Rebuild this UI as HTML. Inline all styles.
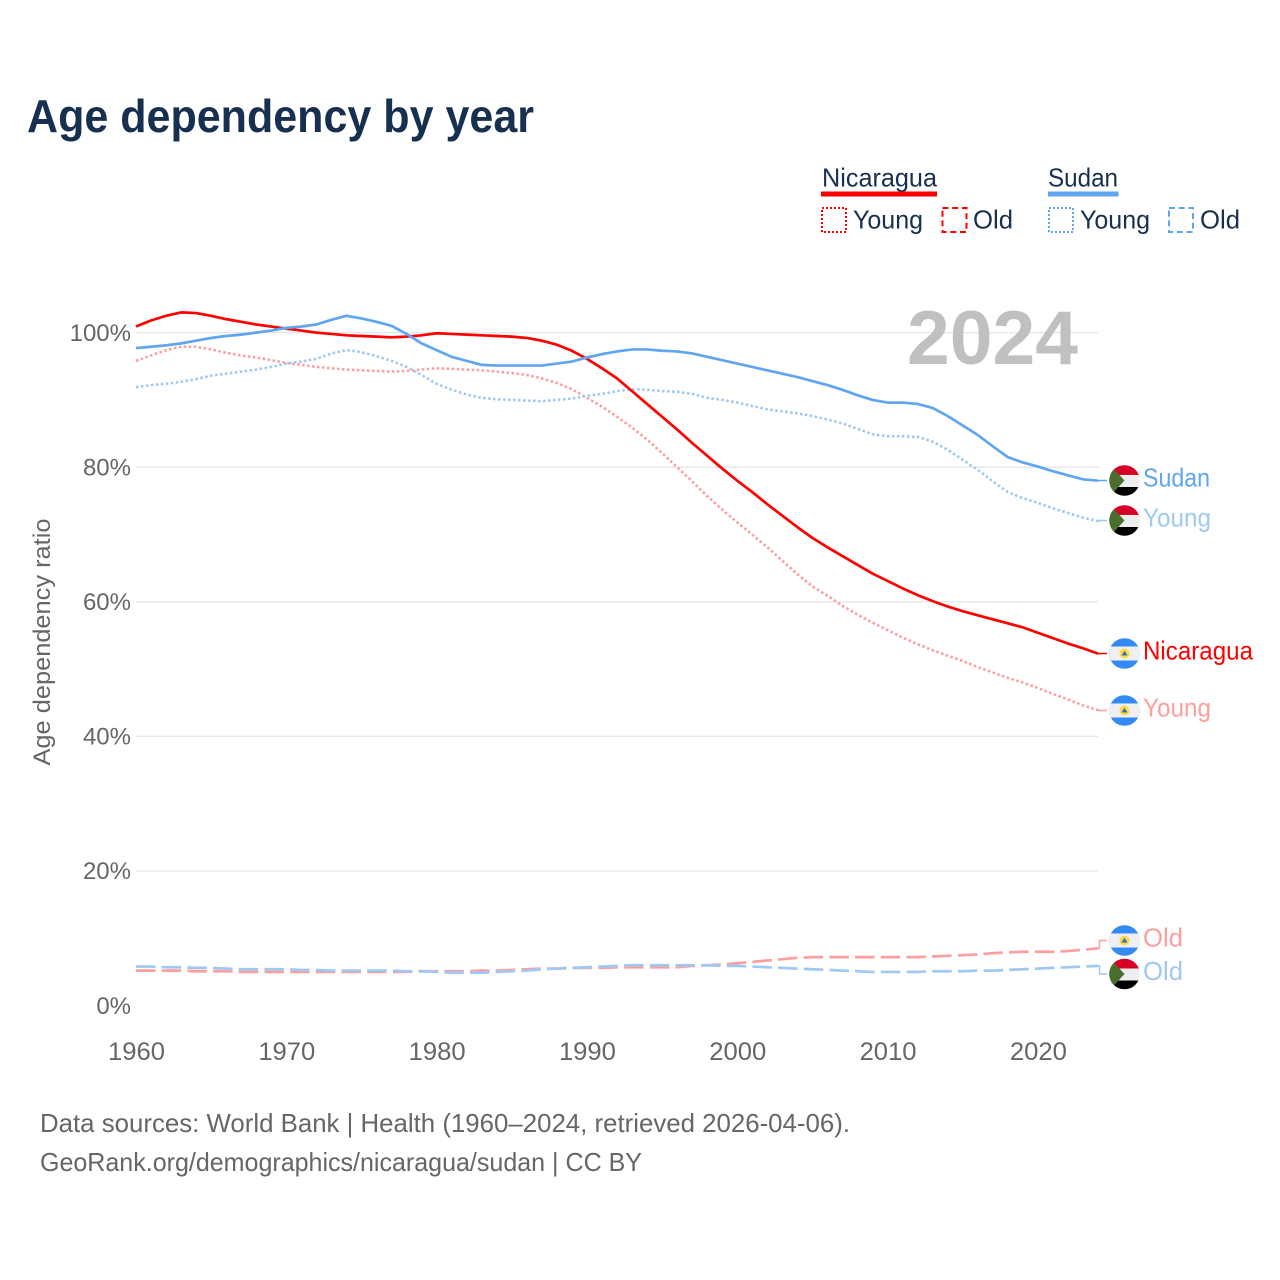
<!DOCTYPE html>
<html lang="en">
<head>
<meta charset="utf-8">
<title>Age dependency by year</title>
<style>
html,body{margin:0;padding:0;background:#fff;}
svg{display:block;font-family:"Liberation Sans",sans-serif;}
</style>
</head>
<body>
<svg id="chart" xmlns="http://www.w3.org/2000/svg" width="1280" height="1280" viewBox="0 0 1280 1280">
<defs><clipPath id="flag-clip"><circle cx="0" cy="0" r="15.3"></circle></clipPath></defs>
<rect x="0" y="0" width="1280" height="1280" fill="#fff"></rect>
<text x="27" y="132" font-size="46" font-weight="700" fill="#17304f" textLength="507" lengthAdjust="spacingAndGlyphs">Age dependency by year</text>

<g>
<text x="822" y="186.5" font-size="26" fill="#17304f" textLength="115" lengthAdjust="spacingAndGlyphs">Nicaragua</text>
<rect x="821" y="191.5" width="116" height="5" fill="#ff0000"></rect>
<text x="1048" y="186.5" font-size="26" fill="#17304f" textLength="70" lengthAdjust="spacingAndGlyphs">Sudan</text>
<rect x="1048" y="191.5" width="70.5" height="5" fill="#60a5f0"></rect>
<rect x="822" y="208" width="24" height="24" fill="none" stroke="#ff0000" stroke-width="2" stroke-dasharray="2 2"></rect>
<text x="853" y="228.5" font-size="26" fill="#17304f" textLength="70" lengthAdjust="spacingAndGlyphs">Young</text>
<rect x="942.5" y="208" width="24" height="24" fill="none" stroke="#ff0000" stroke-width="2" stroke-dasharray="6 3.7"></rect>
<text x="973" y="228.5" font-size="26" fill="#17304f" textLength="40" lengthAdjust="spacingAndGlyphs">Old</text>
<rect x="1049" y="208" width="24" height="24" fill="none" stroke="#60a5f0" stroke-width="2" stroke-dasharray="2 2"></rect>
<text x="1080" y="228.5" font-size="26" fill="#17304f" textLength="70" lengthAdjust="spacingAndGlyphs">Young</text>
<rect x="1169" y="208" width="24" height="24" fill="none" stroke="#60a5f0" stroke-width="2" stroke-dasharray="6 3.7"></rect>
<text x="1200" y="228.5" font-size="26" fill="#17304f" textLength="40" lengthAdjust="spacingAndGlyphs">Old</text>
</g>

<g id="grid"></g>
<text x="907" y="364" font-size="76" font-weight="700" fill="#c0c0c0" textLength="171" lengthAdjust="spacingAndGlyphs">2024</text>
<g id="yticks"></g>
<g id="xticks"></g>
<text transform="translate(50,642) rotate(-90)" text-anchor="middle" font-size="24" fill="#666666" textLength="247" lengthAdjust="spacingAndGlyphs">Age dependency ratio</text>
<g id="series"></g>
<g id="endlabels"></g>

<text x="40" y="1132" font-size="26" fill="#666666" textLength="810" lengthAdjust="spacingAndGlyphs">Data sources: World Bank | Health (1960–2024, retrieved 2026-04-06).</text>
<text x="40" y="1171" font-size="26" fill="#666666" textLength="602" lengthAdjust="spacingAndGlyphs">GeoRank.org/demographics/nicaragua/sudan | CC BY</text>
</svg>
<script>
const startYear = 1960;
const xTickLabels = [1960, 1970, 1980, 1990, 2000, 2010, 2020];
const yTickLabels = [0, 20, 40, 60, 80, 100];

const nicaraguaTotal = [
100.9,101.8,102.5,103.0,102.9,102.5,102.0,101.6,101.2,100.9,
100.6,100.3,100.0,99.8,99.6,99.5,99.4,99.3,99.4,99.6,
99.9,99.8,99.7,99.6,99.5,99.4,99.2,98.8,98.2,97.3,
96.1,94.7,93.2,91.3,89.4,87.5,85.6,83.6,81.7,79.8,
78.0,76.3,74.5,72.8,71.1,69.5,68.1,66.8,65.5,64.2,
63.1,62.0,61.0,60.1,59.3,58.6,58.0,57.4,56.8,56.2,
55.4,54.6,53.8,53.1,52.3];
const nicaraguaYoung = [
95.8,96.6,97.4,97.9,97.9,97.5,97.0,96.6,96.3,95.9,
95.5,95.2,94.9,94.7,94.5,94.4,94.3,94.2,94.3,94.5,
94.7,94.6,94.5,94.4,94.2,94.0,93.7,93.2,92.5,91.6,
90.3,89.0,87.5,85.9,84.1,82.1,80.0,77.9,75.7,73.7,
71.8,70.0,68.1,66.1,64.1,62.3,60.9,59.4,58.1,56.9,
55.8,54.7,53.7,52.8,52.0,51.2,50.3,49.5,48.7,48.0,
47.2,46.3,45.5,44.6,43.9];
const nicaraguaOld = [
5.2,5.2,5.2,5.2,5.1,5.1,5.1,5.0,5.0,5.0,
5.0,5.0,5.0,5.0,5.0,5.0,5.0,5.0,5.0,5.1,
5.1,5.1,5.1,5.2,5.2,5.3,5.4,5.5,5.5,5.6,
5.6,5.6,5.7,5.7,5.7,5.7,5.7,5.9,6.0,6.1,
6.3,6.5,6.7,6.9,7.1,7.2,7.2,7.2,7.2,7.2,
7.2,7.2,7.2,7.3,7.4,7.5,7.6,7.8,7.9,8.0,
8.0,8.0,8.1,8.3,8.5];
const sudanTotal = [
97.7,97.9,98.1,98.4,98.8,99.2,99.5,99.7,100.0,100.3,
100.7,100.9,101.2,101.9,102.5,102.1,101.6,101.0,99.8,98.4,
97.4,96.4,95.8,95.2,95.1,95.1,95.1,95.1,95.4,95.7,
96.3,96.8,97.2,97.5,97.5,97.3,97.2,96.9,96.4,95.9,
95.4,94.9,94.4,93.9,93.4,92.8,92.2,91.5,90.7,90.0,
89.6,89.6,89.4,88.8,87.6,86.2,84.8,83.1,81.5,80.7,
80.1,79.4,78.8,78.2,78.0];
const sudanYoung = [
91.9,92.2,92.4,92.7,93.1,93.6,93.9,94.2,94.5,94.9,
95.4,95.7,96.1,96.9,97.4,97.1,96.5,95.8,94.9,93.7,
92.4,91.5,90.8,90.3,90.1,90.0,89.9,89.8,90.0,90.2,
90.6,90.9,91.3,91.6,91.5,91.3,91.2,90.9,90.3,90.0,
89.6,89.1,88.6,88.3,88.0,87.6,87.1,86.5,85.7,84.9,
84.6,84.6,84.5,83.8,82.6,81.1,79.6,77.9,76.3,75.4,
74.7,73.9,73.2,72.5,72.0];
const sudanOld = [
5.8,5.8,5.7,5.7,5.6,5.6,5.5,5.4,5.4,5.4,
5.4,5.3,5.3,5.2,5.2,5.2,5.2,5.2,5.1,5.1,
5.0,4.9,4.9,4.9,5.0,5.1,5.2,5.4,5.5,5.6,
5.7,5.8,5.9,6.0,6.0,6.0,6.0,6.0,6.0,5.9,
5.9,5.8,5.7,5.6,5.5,5.4,5.3,5.2,5.1,5.0,
5.0,5.0,5.0,5.1,5.1,5.1,5.2,5.2,5.3,5.4,
5.5,5.6,5.7,5.8,5.9];

const NS = 'http://www.w3.org/2000/svg';
function xScale(year) { return 136 + (year - 1960) * (962 / 64); }
function yScale(v) { return 1005.6 - v * 6.73; }
function mk(tag, attrs, parent) {
  const el = document.createElementNS(NS, tag);
  for (const k in attrs) el.setAttribute(k, attrs[k]);
  parent.appendChild(el);
  return el;
}

const gridG = document.getElementById('grid');
const yG = document.getElementById('yticks');
yTickLabels.forEach(function (v) {
  if (v > 0) {
    const line = mk('line', {x1: 136, x2: 1098, y1: yScale(v), y2: yScale(v), stroke: '#e6e6e6', 'stroke-width': 1.3}, gridG);
    
    
  }
  const t = mk('text', {x: 131, y: yScale(v) + 8.2, 'text-anchor': 'end', 'font-size': 24, fill: '#666666'}, yG);
  
  
  t.textContent = v + '%';
});

const xG = document.getElementById('xticks');
xTickLabels.forEach(function (yr) {
  const t = mk('text', {x: xScale(yr) + 0.5, y: 1060, 'text-anchor': 'middle', 'font-size': 25, fill: '#666666', textLength: 57, lengthAdjust: 'spacingAndGlyphs'}, xG);
  
  
  t.textContent = yr;
});

const lineStyles = {
  solid: {dash: 'none', width: 2.7},
  dotted: {dash: '2.5 2.5', width: 2.6},
  dashed: {dash: '19.5 6.2', width: 2.7}
};
const seriesG = document.getElementById('series');
const labelsG = document.getElementById('endlabels');

function drawFlag(parent, country, cy) {
  const g = mk('g', {transform: 'translate(1124.5,' + cy + ')', 'clip-path': 'url(#flag-clip)'}, parent);
  
  
  if (country === 'sudan') {
    mk('rect', {x: -16, y: -16, width: 32, height: 10.5, fill: '#d80027'}, g);
    mk('rect', {x: -16, y: -5.5, width: 32, height: 12, fill: '#eeeeee'}, g);
    mk('rect', {x: -16, y: 6.5, width: 32, height: 10, fill: '#000000'}, g);
    mk('polygon', {points: '-16,-16 -16,16 -11,12 0,0 -11,-12', fill: '#496e2d'}, g);
  } else {
    mk('rect', {x: -16, y: -16, width: 32, height: 32, fill: '#338af3'}, g);
    mk('rect', {x: -16, y: -7, width: 32, height: 14, fill: '#f0f0f0'}, g);
    mk('circle', {cx: 0, cy: 0, r: 5, fill: '#ffda44'}, g);
    mk('polygon', {points: '-3,2 3,2 0,-2.8', fill: '#2a6fc0'}, g);
  }
}

function drawSeries(values, name, color, style, country, label, labelY, labelWidth) {
  const pts = values.map(function (v, i) {
    return xScale(startYear + i).toFixed(2) + ',' + yScale(v).toFixed(2);
  });
  const s = lineStyles[style];
  const attrs = {points: pts.join(' '), fill: 'none', stroke: color, 'stroke-width': s.width, 'stroke-linejoin': 'round'};
  if (s.dash !== 'none') attrs['stroke-dasharray'] = s.dash;
  const poly = mk('polyline', attrs, seriesG);
  
  

  const endY = yScale(values[values.length - 1]);
  const lead = mk('polyline', {points: '1098,' + endY.toFixed(2) + ' 1099.5,' + endY.toFixed(2) + ' 1099.5,' + labelY + ' 1107,' + labelY, fill: 'none', stroke: color, 'stroke-width': 1.5}, labelsG);
  
  

  drawFlag(labelsG, country, labelY);

  const t = mk('text', {x: 1143, y: labelY + 6, 'font-size': 26, fill: color, textLength: labelWidth, lengthAdjust: 'spacingAndGlyphs'}, labelsG);
  
  
  t.textContent = label;
}

const RED = '#ff0000', BLUE = '#60a5f0', LRED = '#ff9e9e', LBLUE = '#9fc8f2';
drawSeries(nicaraguaOld, 'nicaragua-old', LRED, 'dashed', 'nicaragua', 'Old', 940.5, 40);
drawSeries(sudanOld, 'sudan-old', LBLUE, 'dashed', 'sudan', 'Old', 974, 40);
drawSeries(nicaraguaYoung, 'nicaragua-young', LRED, 'dotted', 'nicaragua', 'Young', 710.5, 68);
drawSeries(sudanYoung, 'sudan-young', LBLUE, 'dotted', 'sudan', 'Young', 520.5, 68);
drawSeries(nicaraguaTotal, 'nicaragua-total', RED, 'solid', 'nicaragua', 'Nicaragua', 653.5, 110);
drawSeries(sudanTotal, 'sudan-total', BLUE, 'solid', 'sudan', 'Sudan', 480.5, 67);
</script>
</body>
</html>
